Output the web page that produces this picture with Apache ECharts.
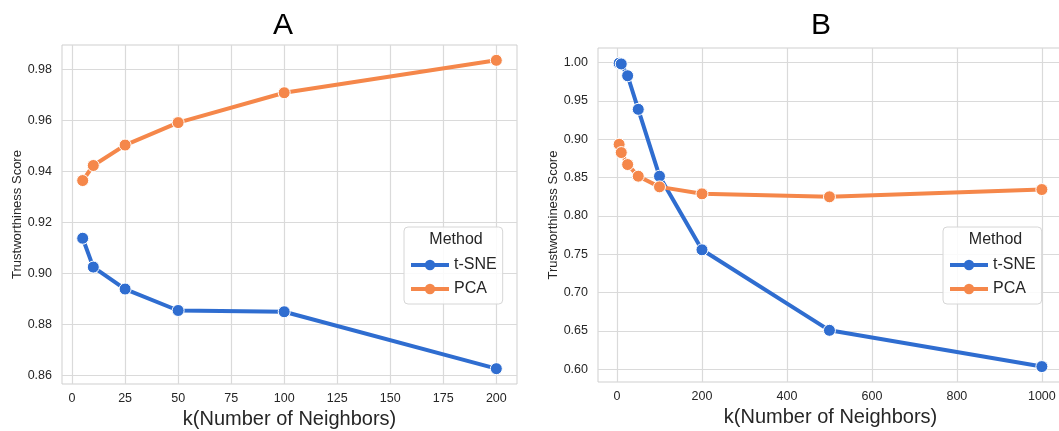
<!DOCTYPE html>
<html>
<head>
<meta charset="utf-8">
<script src="https://cdn.jsdelivr.net/npm/echarts@6/dist/echarts.min.js"></script>
<style>html,body{margin:0;padding:0;background:#fff}#c{width:1059px;height:431px}</style>
</head>
<body>
<div id="c"></div>
<script>
// ---- data ----
const kA = [5, 10, 25, 50, 100, 200];
const tsneA = [0.9138, 0.9025, 0.8939, 0.8855, 0.8850, 0.8627];
const pcaA = [0.9364, 0.9423, 0.9503, 0.9591, 0.9708, 0.9835];
const kB = [5, 10, 25, 50, 100, 200, 500, 1000];
const tsneB = [0.9990, 0.9980, 0.9826, 0.9388, 0.8516, 0.7556, 0.6506, 0.6033];
const pcaB = [0.8932, 0.8824, 0.8668, 0.8516, 0.8377, 0.8286, 0.8247, 0.8342];
const xTicksA = [0, 25, 50, 75, 100, 125, 150, 175, 200];
const yTicksA = [0.86, 0.88, 0.90, 0.92, 0.94, 0.96, 0.98];
const xTicksB = [0, 200, 400, 600, 800, 1000];
const yTicksB = [0.60, 0.65, 0.70, 0.75, 0.80, 0.85, 0.90, 0.95, 1.00];
const methods = ['t-SNE', 'PCA'];
const titles = ['A', 'B'];
const xName = 'k(Number of Neighbors)';
const yName = 'Trustworthiness Score';

const FONT = 'Liberation Sans, Arial, sans-serif';
const TXT = '#262626';
const BLUE = '#2f6dd0';
const ORANGE = '#f5874a';

function xAxis(idx, min, max, ticks) {
  return {
    type: 'value', gridIndex: idx, min: min, max: max,
    name: xName, nameLocation: 'middle', nameGap: 23,
    nameTextStyle: { fontSize: 20, color: TXT, fontFamily: FONT },
    axisLine: { show: false },
    axisTick: { show: false, customValues: ticks },
    axisLabel: { customValues: ticks, fontSize: 12.5, color: TXT, fontFamily: FONT, margin: 8,
      formatter: v => String(v) },
    splitLine: { show: true, lineStyle: { color: '#dadada', width: 1.2 } }
  };
}
function yAxis(idx, min, max, ticks) {
  return {
    type: 'value', gridIndex: idx, min: min, max: max,
    name: yName, nameLocation: 'middle', nameGap: 38,
    nameTextStyle: { fontSize: 13, color: TXT, fontFamily: FONT },
    axisLine: { show: false },
    axisTick: { show: false, customValues: ticks },
    axisLabel: { customValues: ticks, fontSize: 12.5, color: TXT, fontFamily: FONT, margin: 10,
      formatter: v => v.toFixed(2) },
    splitLine: { show: true, lineStyle: { color: '#dadada', width: 1.2 } }
  };
}
function series(name, idx, ks, vals, color) {
  return {
    name: name, type: 'line', xAxisIndex: idx, yAxisIndex: idx,
    data: ks.map((k, i) => [k, vals[i]]),
    symbol: 'circle', symbolSize: 12,
    lineStyle: { color: color, width: 4 },
    itemStyle: { color: color, borderColor: '#fff', borderWidth: 1 },
    emphasis: { disabled: true }, animation: false
  };
}
function legend(left, top) {
  return {
    orient: 'vertical', left: left, top: top, data: methods,
    padding: [30, 6, 7, 5], itemGap: 8, itemWidth: 38, itemHeight: 13, itemTextGap: 10,
    textStyle: { fontSize: 16, color: TXT, fontFamily: FONT },
    lineStyle: { width: 4 },
    itemStyle: { borderWidth: 0 },
    borderColor: '#d6d6d6', borderWidth: 1, borderRadius: 4,
    backgroundColor: 'rgba(255,255,255,0.85)'
  };
}
function text(x, y, s, size) {
  return { type: 'text', x: x, y: y, z: 100,
    style: { text: s, fontSize: size, fontFamily: FONT, fill: size > 20 ? '#000' : TXT,
      align: 'center', verticalAlign: 'middle' } };
}

const chart = echarts.init(document.getElementById('c'), null, { renderer: 'canvas' });
chart.setOption({
  animation: false,
  backgroundColor: '#fff',
  grid: [
    { left: 62, top: 45, width: 455, height: 339, outerBoundsMode: 'none', containLabel: false,
      show: true, borderColor: '#cfcfcf', borderWidth: 1, backgroundColor: '#fff' },
    { left: 598, top: 48, right: -4, height: 334, outerBoundsMode: 'none', containLabel: false,
      show: true, borderColor: '#cfcfcf', borderWidth: 1, backgroundColor: '#fff' }
  ],
  xAxis: [ xAxis(0, -4.75, 209.75, xTicksA), xAxis(1, -44.75, 1049.75, xTicksB) ],
  yAxis: [ yAxis(0, 0.8567, 0.9895, yTicksA), yAxis(1, 0.5832, 1.0188, yTicksB) ],
  legend: [ legend(404, 227), legend(943, 227) ],
  graphic: [
    text(283, 26, titles[0], 30),
    text(821, 26, titles[1], 30),
    text(456, 240, 'Method', 16),
    text(995.5, 240, 'Method', 16)
  ],
  series: [
    series(methods[0], 0, kA, tsneA, BLUE),
    series(methods[1], 0, kA, pcaA, ORANGE),
    series(methods[0], 1, kB, tsneB, BLUE),
    series(methods[1], 1, kB, pcaB, ORANGE)
  ]
});
</script>
</body>
</html>
